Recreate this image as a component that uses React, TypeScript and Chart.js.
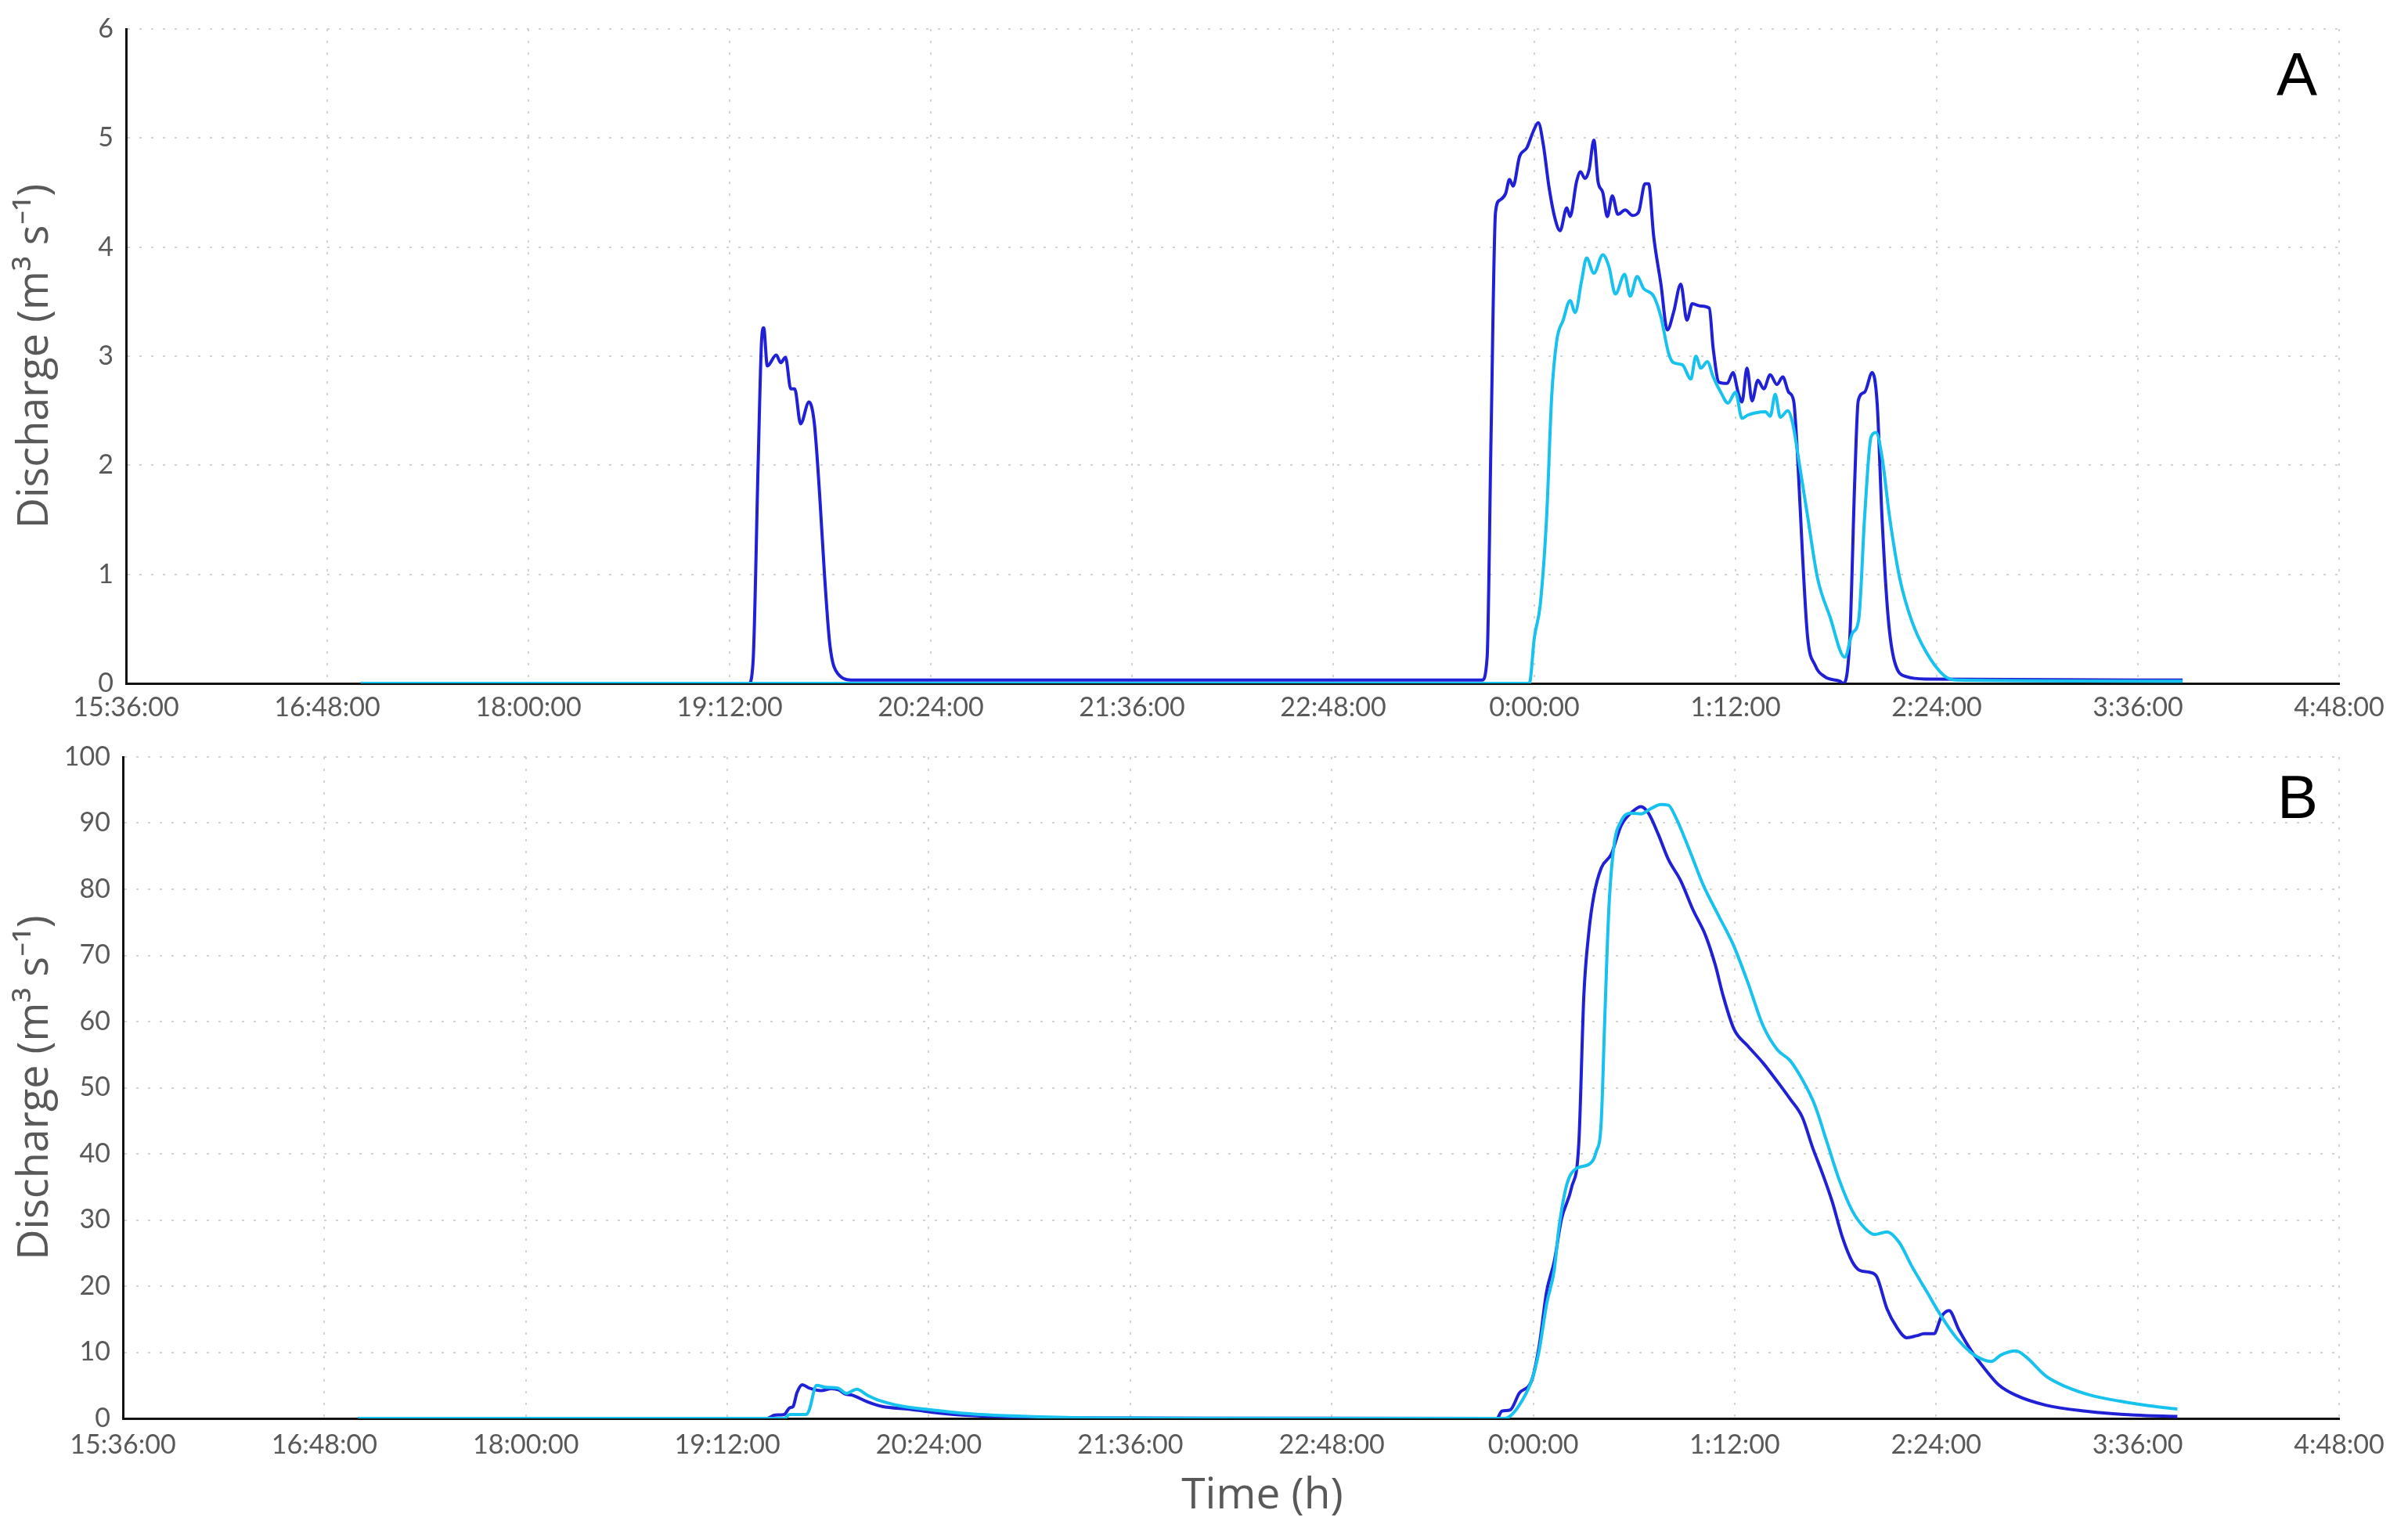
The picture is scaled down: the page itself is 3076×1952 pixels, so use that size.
import React, { useEffect, useRef } from "react";
import { Chart, registerables } from "chart.js";

Chart.register(...registerables);

// x values are minutes after midnight of the first day (15:36 = 936, 4:48 next day = 1728)
const X_MIN = 936;
const X_MAX = 1728;
const X_STEP = 72;

const PANEL_LABELS = ["A", "B"];
const Y_TITLE = "Discharge (m³ s⁻¹)";
const X_TITLE = "Time (h)";

const A_Y_MAX = 6;
const A_Y_STEP = 1;
const B_Y_MAX = 100;
const B_Y_STEP = 10;

// ---------- Panel A ----------
const aDarkTime = [
  1020, 1158.9, 1160.4, 1162.2, 1163.4, 1164.2, 1165.5, 1168.7, 1170.3, 1172, 1173.9, 1175.3, 1177.4,
  1180.4, 1182.3, 1184.2, 1186, 1187.9, 1190.7, 1196.3, 1421.3, 1423.1, 1424.5, 1426.1, 1427.6, 1429.7,
  1431.1, 1432.4, 1434.7, 1437.3, 1439.6, 1441.4, 1443.2, 1445.3, 1447.5, 1449.2, 1451.6, 1452.8, 1455.1,
  1456.5, 1458.1, 1459.6, 1461.3, 1462.8, 1464.5, 1466.1, 1467.9, 1469.9, 1472.5, 1475.2, 1477.3, 1479.6,
  1480.9, 1482.7, 1485.3, 1487.6, 1489.8, 1492.4, 1494.6, 1496.5, 1499.6, 1502.6, 1504, 1506.1, 1509,
  1511.1, 1512.9, 1514.3, 1516.1, 1517.9, 1520, 1522.1, 1524.4, 1526.8, 1528.9, 1531, 1532.8, 1534.2,
  1536, 1537.8, 1540.4, 1544, 1549.3, 1550.7, 1552.9, 1554.7, 1555.9, 1558.2, 1560.9, 1562.7, 1564.4,
  1566.6, 1568.9, 1573.3, 1580.4, 1672,
];
const aDarkQ = [
  0, 0, 0.2, 2.0, 3.12, 3.26, 2.91, 3.01, 2.94, 2.99, 2.7, 2.7, 2.38,
  2.58, 2.39, 1.74, 0.98, 0.35, 0.09, 0.03, 0.03, 0.24, 2.26, 4.32, 4.43, 4.49,
  4.62, 4.56, 4.83, 4.91, 5.06, 5.14, 4.94, 4.54, 4.25, 4.15, 4.36, 4.28, 4.6,
  4.69, 4.63, 4.71, 4.98, 4.6, 4.5, 4.28, 4.47, 4.3, 4.34, 4.29, 4.32, 4.58,
  4.58, 4.1, 3.66, 3.24, 3.4, 3.66, 3.33, 3.48, 3.46, 3.44, 3.07, 2.76, 2.75,
  2.85, 2.67, 2.58, 2.89, 2.59, 2.78, 2.7, 2.83, 2.74, 2.81, 2.67, 2.59, 2.08,
  1.16, 0.42, 0.17, 0.06, 0.02, 0.0, 0.42, 1.89, 2.59, 2.67, 2.85, 2.56, 1.53,
  0.61, 0.2, 0.06, 0.04, 0.03,
];

const aLightTime = [
  1020, 1438.2, 1440, 1442.1, 1444.4, 1446.2, 1448, 1450.3, 1452.8, 1454.6, 1456.9, 1458.7, 1461.3,
  1464.5, 1466.7, 1469, 1472.3, 1474.3, 1476.8, 1479.1, 1482.7, 1485.3, 1488, 1489.8, 1493, 1496,
  1497.8, 1499.6, 1501.9, 1504, 1506.7, 1509.3, 1512, 1514.3, 1516.4, 1519.1, 1522.7, 1524.4, 1526.2,
  1528, 1530.7, 1532.4, 1535.1, 1537.8, 1541.3, 1545.8, 1551.1, 1553.8, 1556.1, 1558.2, 1560.5, 1562.3,
  1564.4, 1567.1, 1570.7, 1575.1, 1580.4, 1586.7, 1591.1, 1672,
];
const aLightQ = [
  0, 0, 0.42, 0.72, 1.53, 2.63, 3.14, 3.33, 3.51, 3.4, 3.69, 3.9, 3.76,
  3.93, 3.82, 3.57, 3.75, 3.55, 3.73, 3.62, 3.55, 3.36, 3.03, 2.94, 2.92, 2.79,
  3.0, 2.89, 2.95, 2.81, 2.67, 2.57, 2.67, 2.43, 2.46, 2.48, 2.49, 2.45, 2.65,
  2.44, 2.5, 2.39, 1.97, 1.53, 0.97, 0.61, 0.24, 0.46, 0.59, 1.53, 2.26, 2.3,
  2.08, 1.53, 0.97, 0.57, 0.28, 0.07, 0.03, 0.02,
];

// ---------- Panel B ----------
const bDarkTime = [
  1020, 1166.2, 1168.9, 1172.3, 1174.3, 1175.5, 1176.9, 1178.8, 1181.2, 1185.5, 1189.2, 1191.9, 1194,
  1196.7, 1202.1, 1207.4, 1217.1, 1227.8, 1240.6, 1262, 1294, 1350, 1427, 1428.8, 1431.8, 1435, 1439.5,
  1442.1, 1444.8, 1447.5, 1450.1, 1453.7, 1456.3, 1458.1, 1459.9, 1461.7, 1464.3, 1467.9, 1471.4, 1475.9,
  1478.5, 1481.2, 1484.7, 1488.3, 1492.7, 1497.2, 1501.6, 1505.1, 1507.8, 1511.7, 1516.7, 1522, 1527.3,
  1531.8, 1536.2, 1539.8, 1543.3, 1546.9, 1550.4, 1554, 1556.6, 1560.2, 1562.8, 1566.4, 1569.9, 1573.5,
  1577, 1579.7, 1583.2, 1585.9, 1588.6, 1592.1, 1596.6, 1601, 1606.3, 1612.5, 1623.2, 1637.4, 1655.1,
  1670.2,
];
const bDarkQ = [
  0, 0, 0.5, 0.6, 1.6, 1.8, 3.9, 5.1, 4.6, 4.2, 4.5, 4.3, 3.7,
  3.5, 2.5, 1.8, 1.4, 0.8, 0.4, 0.15, 0.05, 0.02, 0, 1.1, 1.3, 3.8, 5.8,
  10.9, 19.2, 23.7, 30.1, 34.9, 41.6, 64.0, 73.6, 79.1, 83.2, 85.3, 89.6, 91.9,
  92.5, 91.5, 88.3, 84.5, 81.3, 76.8, 73.0, 68.5, 64.0, 58.9, 56.3, 53.8, 50.9,
  48.3, 45.5, 41.0, 37.1, 32.7, 27.5, 23.7, 22.4, 22.1, 21.4, 16.6, 13.8, 12.2,
  12.5, 12.8, 12.8, 15.4, 16.3, 13.4, 10.2, 7.7, 5.1, 3.5, 2.0, 1.1, 0.5,
  0.3,
];

const bLightTime = [
  1020, 1172.3, 1174.3, 1180.1, 1181.2, 1183.9, 1187.1, 1191.4, 1194.6, 1198.3, 1202.1, 1206.4, 1213.8,
  1224.5, 1238.5, 1251.3, 1272.7, 1304.8, 1360, 1429.7, 1432.4, 1435.9, 1439.5, 1442.1, 1444.8, 1447.5,
  1449.2, 1451.9, 1455.4, 1459.9, 1462.5, 1464.3, 1465.6, 1467, 1468.8, 1471.4, 1475, 1478.5, 1482.1,
  1485.6, 1488.3, 1490.9, 1495.4, 1500.7, 1506, 1511.4, 1516.7, 1522, 1527.3, 1531.8, 1536.2, 1540.6,
  1545.1, 1549.5, 1554, 1558.4, 1562, 1566.4, 1570.8, 1575.3, 1580.6, 1585.9, 1591.2, 1596.6, 1600.1,
  1603.7, 1607.2, 1612.5, 1616.1, 1623.2, 1630.3, 1639.2, 1649.8, 1660.5, 1670.2,
];
const bLightQ = [
  0, 0, 0.6, 0.6, 1.2, 5.0, 4.7, 4.6, 3.8, 4.4, 3.5, 2.7, 1.9,
  1.3, 0.7, 0.4, 0.15, 0.04, 0, 0, 0.6, 2.6, 5.8, 10.2, 17.3, 22.4,
  28.8, 35.2, 37.8, 38.4, 40.3, 44.8, 60.8, 76.8, 86.4, 90.3, 91.5, 91.4, 92.2,
  92.8, 92.7, 90.9, 86.4, 80.7, 76.2, 71.7, 65.9, 59.5, 55.7, 54.1, 51.2, 47.4,
  41.6, 35.9, 31.4, 28.8, 27.8, 28.2, 26.6, 23.0, 19.2, 15.4, 12.2, 9.9, 9.0,
  8.6, 9.6, 10.2, 9.3, 6.4, 4.8, 3.5, 2.6, 1.9, 1.4,
];

const DARK = "#2020d6";
const LIGHT = "#17c2ee";
const TEXT = "#595959";

const toPoints = (ts: number[], qs: number[]) => ts.map((t, i) => ({ x: t, y: qs[i] }));

const fmtTime = (v: number | string) => {
  const m = Math.round(Number(v));
  const h = Math.floor(m / 60) % 24;
  const mm = m % 60;
  return `${h}:${String(mm).padStart(2, "0")}:00`;
};

type PanelProps = {
  top: number;
  height: number;
  padTop: number;
  yWidth: number;
  xHeight: number;
  xTickPad: number;
  yMax: number;
  yStep: number;
  darkT: number[];
  darkQ: number[];
  lightT: number[];
  lightQ: number[];
  label: string;
  labelDx: number;
  labelDy: number;
  showXTitle: boolean;
};

function Panel(p: PanelProps) {
  const ref = useRef<HTMLCanvasElement | null>(null);
  useEffect(() => {
    if (!ref.current) return;
    const labelPlugin = {
      id: "panelLabel",
      afterDraw(chart: any) {
        const ctx = chart.ctx;
        const area = chart.chartArea;
        ctx.save();
        ctx.font = '78px "Liberation Sans", Arial, sans-serif';
        ctx.fillStyle = "#000";
        ctx.textAlign = "center";
        ctx.textBaseline = "alphabetic";
        ctx.fillText(p.label, area.right - p.labelDx, area.top + p.labelDy);
        if (p.showXTitle) {
          // x-axis title, sits slightly right of the plot centre as in the source figure
          ctx.font = '55px "Open Sans", sans-serif';
          ctx.fillStyle = TEXT;
          ctx.fillText(X_TITLE, (area.left + area.right) / 2 + 40, area.bottom + 115);
        }
        ctx.restore();
      },
    };
    const chart = new Chart(ref.current, {
      type: "line",
      data: {
        datasets: [
          {
            label: "light",
            data: toPoints(p.lightT, p.lightQ),
            borderColor: LIGHT,
            borderWidth: 4,
            pointRadius: 0,
            cubicInterpolationMode: "monotone",
            fill: false,
            order: 1,
          },
          {
            label: "dark",
            data: toPoints(p.darkT, p.darkQ),
            borderColor: DARK,
            borderWidth: 4,
            pointRadius: 0,
            cubicInterpolationMode: "monotone",
            fill: false,
            order: 2,
          },
        ],
      },
      options: {
        responsive: false,
        animation: false,
        devicePixelRatio: 1,
        layout: { padding: { top: p.padTop, left: 0, right: 88, bottom: 0 } },
        plugins: { legend: { display: false }, tooltip: { enabled: false } },
        scales: {
          x: {
            type: "linear",
            min: X_MIN,
            max: X_MAX,
            afterFit: (s: any) => {
              s.height = p.xHeight;
              s.paddingLeft = 0;
              s.paddingRight = 0;
            },
            ticks: {
              stepSize: X_STEP,
              autoSkip: false,
              maxRotation: 0,
              padding: p.xTickPad,
              color: TEXT,
              font: { family: "Lato", size: 34 },
              callback: (v: any) => fmtTime(v),
            },
            grid: { color: "#d2d2d2", lineWidth: 2, drawTicks: false },
            border: { display: true, color: "#111", width: 3, dash: [3, 12] },
            title: { display: false },
          },
          y: {
            type: "linear",
            min: 0,
            max: p.yMax,
            afterFit: (s: any) => {
              s.width = p.yWidth;
              s.paddingTop = 0;
              s.paddingBottom = 0;
            },
            ticks: {
              stepSize: p.yStep,
              padding: 16,
              color: TEXT,
              font: { family: "Lato", size: 34 },
            },
            grid: { color: "#d2d2d2", lineWidth: 2, drawTicks: false },
            border: { display: true, color: "#111", width: 3, dash: [3, 12] },
            title: {
              display: true,
              text: Y_TITLE,
              color: TEXT,
              font: { family: '"Open Sans"', size: 54 },
              padding: { top: 13, bottom: 0 },
            },
          },
        },
      },
      plugins: [labelPlugin],
    } as any);
    return () => chart.destroy();
  }, []);
  return (
    <canvas
      ref={ref}
      width={3076}
      height={p.height}
      style={{ position: "absolute", left: 0, top: p.top, width: 3076, height: p.height }}
    />
  );
}

export default function App() {
  return (
    <div
      style={{
        position: "fixed",
        left: 0,
        top: 0,
        width: 3076,
        height: 1952,
        background: "#fff",
        overflow: "hidden",
      }}
    >
      <Panel
        top={0}
        height={940}
        padTop={37}
        yWidth={161}
        xHeight={67}
        xTickPad={11}
        yMax={A_Y_MAX}
        yStep={A_Y_STEP}
        darkT={aDarkTime}
        darkQ={aDarkQ}
        lightT={aLightTime}
        lightQ={aLightQ}
        label={PANEL_LABELS[0]}
        labelDx={54}
        labelDy={85}
        showXTitle={false}
      />
      <Panel
        top={935}
        height={1017}
        padTop={32}
        yWidth={157}
        xHeight={140}
        xTickPad={14}
        yMax={B_Y_MAX}
        yStep={B_Y_STEP}
        darkT={bDarkTime}
        darkQ={bDarkQ}
        lightT={bLightTime}
        lightQ={bLightQ}
        label={PANEL_LABELS[1]}
        labelDx={53}
        labelDy={78}
        showXTitle={true}
      />
    </div>
  );
}
